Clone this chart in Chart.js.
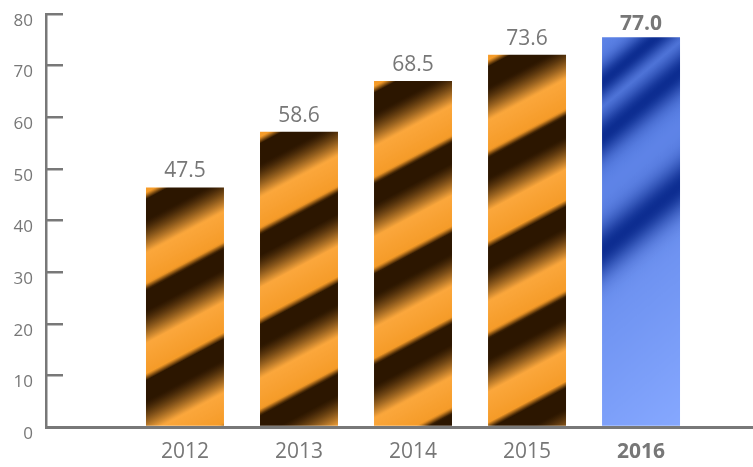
<!DOCTYPE html>
<html>
<head>
<meta charset="utf-8">
<script src="https://cdn.jsdelivr.net/npm/chart.js@4/dist/chart.umd.min.js"></script>
<style>
html, body { margin: 0; padding: 0; background: #ffffff; }
#c { display: block; }
</style>
</head>
<body>
<canvas id="c" width="753" height="467" style="width:753px;height:467px"></canvas>
<script>
// ---- data ----
const categories = ['2012', '2013', '2014', '2015', '2016'];
const values = [46.4, 57.2, 67.0, 72.1, 75.5];          // bar heights read against the axis
const valueLabels = ['47.5', '58.6', '68.5', '73.6', '77.0']; // printed labels
const yTicks = [0, 10, 20, 30, 40, 50, 60, 70, 80];
const highlightIndex = 4;

// ---- style ----
const BAR_PCT = 0.684;
const TEXT = '#777777';
const FONT = '"Open Sans", "Noto Sans", sans-serif';

function mix(a, b, t) { return a.map((v, i) => v + (b[i] - v) * t); }
function rgb(c) { return 'rgb(' + c.map(v => Math.round(Math.max(0, Math.min(255, v)))).join(',') + ')'; }

const OR_LIGHT = [251, 167, 60], OR_LIGHT2 = [245, 155, 40], OR_DARK = [44, 22, 0];
function orangeAt(ph) {
  if (ph < 0.34) return mix(OR_LIGHT, OR_LIGHT2, ph / 0.34);
  if (ph < 0.41) return mix(OR_LIGHT2, OR_DARK, (ph - 0.34) / 0.07);
  if (ph < 0.64) return OR_DARK;
  const u = (ph - 0.64) / 0.36;
  return mix(OR_DARK, OR_LIGHT, Math.pow(u, 1.3));
}

const BL_TOP = [92, 130, 230], BL_BOT = [134, 168, 255], BL_DARK = [8, 40, 140];
const blueBands = [[0.10, 0.04], [0.22, 0.05], [0.47, 0.06]];
function blueAt(t) {
  const c = mix(BL_TOP, BL_BOT, Math.max(0, (t - 0.3) / 0.7));
  let k = 0;
  for (const [c0, w] of blueBands) k = Math.max(k, Math.exp(-Math.pow((t - c0) / w, 2)));
  return mix(c, BL_DARK, k * 0.95);
}

function barFill(context) {
  const chart = context.chart;
  const i = context.dataIndex;
  const xs = chart.scales.x, ys = chart.scales.y;
  if (!xs || !ys || !chart.chartArea || i === undefined) return '#f5a030';
  const cx = xs.getPixelForValue(i + 1);
  const w = (xs.getPixelForValue(2) - xs.getPixelForValue(1)) * BAR_PCT;
  const top = ys.getPixelForValue(values[i]);
  const bot = ys.getPixelForValue(0);
  const h = bot - top;
  const left = cx - w / 2;
  const blue = i === highlightIndex;
  const ang = (blue ? 40 : 28) * Math.PI / 180;
  const dx = Math.sin(ang), dy = Math.cos(ang);
  const L = w * dx + h * dy;
  const g = chart.ctx.createLinearGradient(left, top, left + dx * L, top + dy * L);
  const N = Math.ceil(L / 1.5);
  const P = 80;
  for (let k = 0; k <= N; k++) {
    const t = k / N;
    const s = t * L;
    const col = blue ? blueAt(t) : orangeAt(((s + P * 0.28) % P) / P);
    g.addColorStop(t, rgb(col));
  }
  return g;
}

const valueLabelPlugin = {
  id: 'valueLabels',
  afterDatasetsDraw(chart) {
    const ctx = chart.ctx;
    const meta = chart.getDatasetMeta(0);
    meta.data.forEach((bar, i) => {
      const hl = i === highlightIndex;
      ctx.save();
      ctx.font = (hl ? 'bold ' : '') + '21px ' + FONT;
      ctx.fillStyle = TEXT;
      ctx.textAlign = 'center';
      ctx.textBaseline = 'alphabetic';
      ctx.fillText(valueLabels[i], bar.x, bar.y - (hl ? 7 : 10));
      ctx.restore();
    });
  }
};

new Chart(document.getElementById('c'), {
  type: 'bar',
  data: {
    datasets: [{
      data: categories.map((c, i) => ({ x: i + 1, y: values[i] })),
      backgroundColor: barFill,
      borderWidth: 0,
      barPercentage: BAR_PCT,
      categoryPercentage: 1
    }]
  },
  options: {
    responsive: false,
    animation: false,
    layout: { padding: { top: 14, left: 0, right: 0, bottom: 0 } },
    plugins: { legend: { display: false }, tooltip: { enabled: false } },
    scales: {
      x: {
        type: 'linear',
        min: -0.219,
        max: 5.982,
        offset: false,
        afterBuildTicks: s => { s.ticks = categories.map((c, i) => ({ value: i + 1 })); },
        afterFit: s => { s.height = 40; s.paddingLeft = 0; s.paddingRight = 0; },
        border: { display: true, color: '#787878', width: 3 },
        grid: { display: false, drawTicks: false, offset: false },
        ticks: {
          autoSkip: false,
          maxRotation: 0,
          padding: 12,
          color: TEXT,
          font: c => ({ family: FONT, size: 21, weight: c.index === highlightIndex ? 'bold' : 'normal' }),
          callback: (v, i) => categories[i]
        }
      },
      y: {
        min: 0,
        max: 80,
        afterBuildTicks: s => { s.ticks = yTicks.map(v => ({ value: v })); },
        afterFit: s => { s.width = 46; s.paddingTop = 0; s.paddingBottom = 0; },
        border: { display: true, color: '#787878', width: 2.5 },
        grid: { display: true, drawOnChartArea: false, drawTicks: true, tickLength: -17, color: '#787878', lineWidth: 2.5 },
        ticks: { color: TEXT, font: { family: FONT, size: 17 }, padding: 30, labelOffset: 7 }
      }
    }
  },
  plugins: [valueLabelPlugin]
});
</script>
</body>
</html>
